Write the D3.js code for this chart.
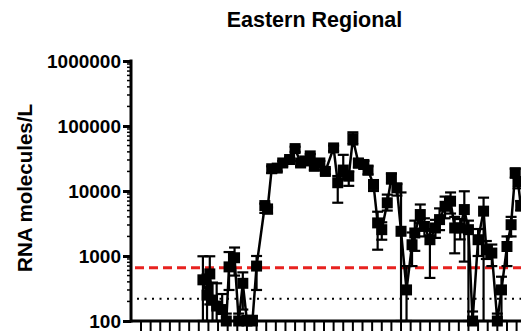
<!DOCTYPE html>
<html>
<head>
<meta charset="utf-8">
<script src="https://cdn.jsdelivr.net/npm/d3@7"></script>
<style>
  html, body { margin: 0; padding: 0; background: #fff; }
  svg { display: block; }
  text { font-family: "Liberation Sans", Arial, sans-serif; font-weight: bold; fill: #000; }
</style>
</head>
<body>
<svg id="chart" width="521" height="331"></svg>
<script>
// Sampling day (days since the first week tick)
const days = [45, 48, 50, 52, 55, 59, 62, 64, 68, 71, 74, 77, 81, 84,
  90, 92, 95, 99, 103, 108, 112, 116, 119, 123, 126, 130, 134,
  140, 143, 147, 151, 154, 158, 162, 165, 169, 172, 175, 179, 182, 186,
  189, 193, 197, 199, 203, 206, 210, 214, 217, 221, 225, 228, 232, 235,
  238, 241, 245, 249, 251, 255, 259, 262, 266, 269, 272, 274, 276];

// Mean RNA molecules per litre
const values = [430, 250, 530, 210, 170, 150, 100, 680, 940, 100, 380, 100, 100, 700,
  5970, 5300, 22000, 22500, 27000, 30500, 44900, 27000, 29000, 34700, 24000, 27000, 20000,
  46000, 13400, 21000, 16900, 64000, 27000, 25600, 21000, 12600, 3230, 2540, 6580, 16000, 11200,
  2400, 301, 1490, 2260, 4340, 2850, 1780, 2700, 3630, 5820, 6970, 2700, 2700, 5180,
  2540, 100, 1780, 4900, 1250, 1110, 100, 301, 1400, 3030, 19100, 14000, 6000];

// Upper and lower ends of the error bars
const errHi = [990, 520, 990, 390, 380, 260, 130, 1150, 1350, 130, 560, 120, 120, 1000,
  6400, 5600, 24000, 24000, 29000, 33000, 48000, 29000, 31000, 37000, 26000, 29000, 22000,
  50000, 17000, 36000, 20000, 80000, 31000, 29000, 24000, 14500, 4800, 3300, 8800, 18500, 12800,
  9500, 700, 2300, 3500, 6200, 3800, 2600, 3600, 5400, 8200, 9500, 4000, 3700, 9900,
  3500, 140, 2600, 7900, 1700, 1500, 130, 480, 2000, 4000, 22000, 16000, 7000];
const errLo = [100, 100, 180, 100, 100, 100, 100, 300, 500, 100, 150, 100, 100, 300,
  4600, 4500, 19000, 20000, 24000, 27000, 40000, 24000, 26000, 30000, 21000, 24000, 18000,
  41000, 6600, 15000, 12000, 52000, 23000, 22000, 18000, 10000, 1250, 1780, 5000, 13000, 8500,
  100, 100, 700, 1200, 3200, 2000, 460, 1900, 2500, 3800, 4500, 1100, 1800, 820,
  100, 100, 1000, 100, 900, 700, 100, 100, 700, 2000, 16000, 11000, 5000];

// Reference levels
const limitUpper = 660;   // red dashed
const limitLower = 220;   // black dotted

const yTickValues = [100, 1000, 10000, 100000, 1000000];
const titleText = "Eastern Regional";
const yLabelText = "RNA molecules/L";

const svg = d3.select("#chart");
const W = 521, H = 331;
const axisX = 131, axisY = 321, topY = 61;
const mk = 11; // marker side

const x = d3.scaleLinear().domain([0, 273]).range([141, 516.6]);
const y = d3.scaleLog().domain([100, 1000000]).range([axisY, topY]).clamp(true);

// Title
svg.append("text")
  .attr("x", 314.5).attr("y", 27)
  .attr("text-anchor", "middle")
  .style("font-size", "21.5px")
  .text(titleText);

// Y axis title
svg.append("text")
  .attr("transform", `translate(32,188) rotate(-90)`)
  .attr("text-anchor", "middle")
  .style("font-size", "20.5px")
  .text(yLabelText);

// Y axis: major and minor ticks
const minor = [];
for (let e = 2; e < 6; e++) for (let m = 2; m <= 9; m++) minor.push(m * Math.pow(10, e));
svg.append("g").selectAll("line").data(minor).join("line")
  .attr("x1", axisX - 4).attr("x2", axisX)
  .attr("y1", d => y(d)).attr("y2", d => y(d))
  .attr("stroke", "#000").attr("stroke-width", 1.5);

const yAxis = d3.axisLeft(y).tickValues(yTickValues).tickFormat(d3.format("d"))
  .tickSize(8).tickPadding(2);
const gy = svg.append("g").attr("transform", `translate(${axisX},0)`).call(yAxis);
gy.select(".domain").remove();
gy.selectAll(".tick line").attr("stroke", "#000").attr("stroke-width", 3);
gy.selectAll(".tick text").style("font-size", "19px")
  .style("font-family", "'Liberation Sans', Arial, sans-serif").style("font-weight", "bold");

svg.append("line")
  .attr("x1", axisX).attr("x2", axisX)
  .attr("y1", topY - 1.5).attr("y2", axisY + 1.5)
  .attr("stroke", "#000").attr("stroke-width", 3);

// X axis: weekly ticks
const xTicks = d3.range(0, 281, 7);
svg.append("g").selectAll("line").data(xTicks).join("line")
  .attr("x1", d => x(d)).attr("x2", d => x(d))
  .attr("y1", axisY).attr("y2", axisY + 12)
  .attr("stroke", "#000").attr("stroke-width", 2);
svg.append("line")
  .attr("x1", axisX).attr("x2", W)
  .attr("y1", axisY).attr("y2", axisY)
  .attr("stroke", "#000").attr("stroke-width", 3);

// Reference lines
svg.append("line")
  .attr("x1", axisX + 4).attr("x2", W)
  .attr("y1", y(limitUpper)).attr("y2", y(limitUpper))
  .attr("stroke", "#e8221f").attr("stroke-width", 3)
  .attr("stroke-dasharray", "9,5");
svg.append("line")
  .attr("x1", axisX + 6).attr("x2", W)
  .attr("y1", y(limitLower)).attr("y2", y(limitLower))
  .attr("stroke", "#000").attr("stroke-width", 2)
  .attr("stroke-dasharray", "2,5.5");

const pts = days.map((d, i) => ({ d, v: values[i], hi: errHi[i], lo: errLo[i] }));

// Error bars
const eb = svg.append("g").attr("stroke", "#000").attr("stroke-width", 2.2);
pts.forEach(p => {
  const cx = x(p.d);
  eb.append("line").attr("x1", cx).attr("x2", cx).attr("y1", y(p.hi)).attr("y2", y(p.lo));
  eb.append("line").attr("x1", cx - 5.5).attr("x2", cx + 5.5).attr("y1", y(p.hi)).attr("y2", y(p.hi));
  eb.append("line").attr("x1", cx - 5.5).attr("x2", cx + 5.5).attr("y1", y(p.lo)).attr("y2", y(p.lo));
});

// Connecting line
svg.append("path")
  .datum(pts)
  .attr("fill", "none").attr("stroke", "#000").attr("stroke-width", 2.5)
  .attr("d", d3.line().x(p => x(p.d)).y(p => y(p.v)));

// Square markers
svg.append("g").selectAll("rect").data(pts).join("rect")
  .attr("x", p => x(p.d) - mk / 2).attr("y", p => y(p.v) - mk / 2)
  .attr("width", mk).attr("height", mk)
  .attr("fill", "#000");
</script>
</body>
</html>
